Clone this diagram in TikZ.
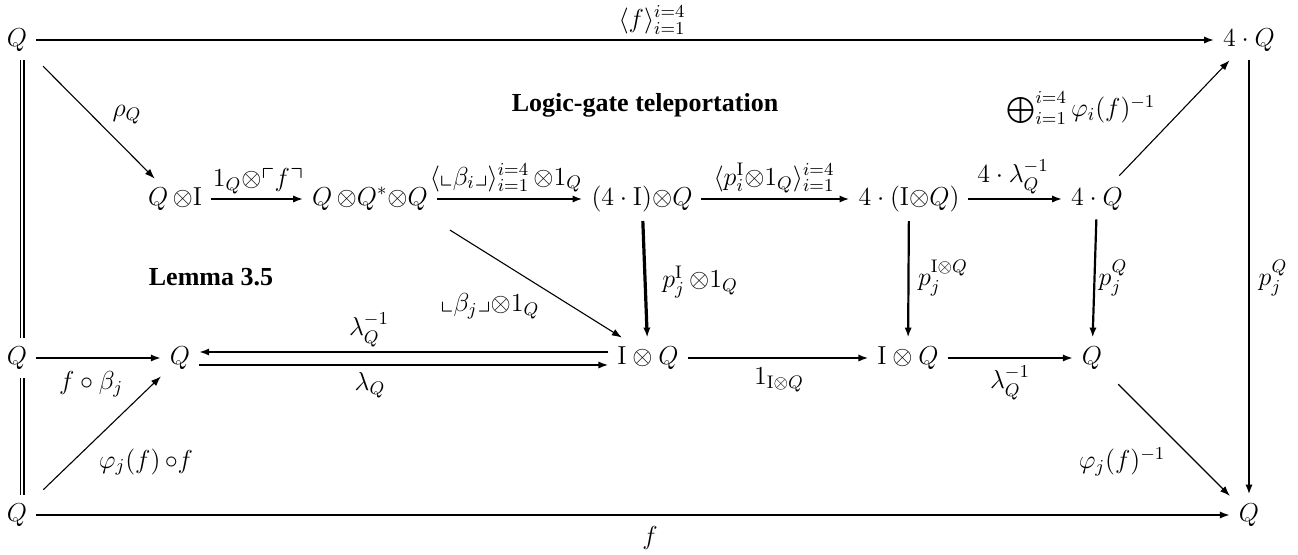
\RequirePackage{fix-cm}
\documentclass[tikz,border=0pt]{standalone}
\usepackage{amsmath,amssymb}
\usepackage[no-math]{fontspec}
\newfontfamily\tnr{Liberation Serif}
\usetikzlibrary{arrows.meta}
\begin{document}
\begin{tikzpicture}[x=0.5pt,y=-0.5pt,
  font=\fontsize{13}{15}\selectfont,
  obj/.style={inner sep=4.5pt, outer sep=0pt},
  lab/.style={inner sep=0pt},
  ar/.style={-{Latex[length=5pt,width=3.6pt]}, line width=1.1pt},
  thinar/.style={-{Latex[length=5pt,width=3.6pt]}, line width=0.55pt},
  eq/.style={double, double distance=1.1pt, line width=0.7pt},
  ttl/.style={font=\tnr\bfseries\fontsize{13}{15}\selectfont}]
\useasboundingbox (0,0) rectangle (1298,554);
% objects
\node[obj] (Q1) at (17,40) {$Q$};
\node[obj] (FQT) at (1249,40) {$4\cdot Q$};
\node[obj] (QI) at (175,199) {$Q\,{\otimes}\mathrm{I}$};
\node[obj] (QQQ) at (370,199) {$Q\,{\otimes}Q^{*}{\otimes}Q$};
\node[obj] (FIQ) at (642,199) {$(4\cdot\mathrm{I}){\otimes}Q$};
\node[obj] (FIQ2) at (909,199) {$4\cdot(\mathrm{I}{\otimes}Q)$};
\node[obj] (FQ) at (1097,199) {$4\cdot Q$};
\node[obj] (Q2) at (17,358) {$Q$};
\node[obj] (Q3) at (180,358) {$Q$};
\node[obj] (IQ1) at (648,358) {$\mathrm{I}\otimes Q$};
\node[obj] (IQ2) at (908,358) {$\mathrm{I}\otimes Q$};
\node[obj] (Q4) at (1092,358) {$Q$};
\node[obj] (Q5) at (17,515) {$Q$};
\node[obj] (Q6) at (1249,515) {$Q$};
% titles
\node[ttl] (logic) at (645,105) {Logic-gate teleportation};
\node[ttl] (lemma) at (211,277) {Lemma 3.5};
% labels
\node[lab] (ltop) at (652,20) {$\langle f\rangle_{i=1}^{i=4}$};
\node[lab] (lrho) at (127,115) {$\rho_Q$};
\node[lab] (l1f) at (258,181) {$1_Q{\otimes}\ulcorner f\urcorner$};
\node[lab] (lbeta) at (506,178) {$\langle\llcorner\beta_i\lrcorner\rangle_{i=1}^{i=4}\,{\otimes}1_Q$};
\node[lab] (lp) at (774,178) {$\langle p_i^{\mathrm{I}}{\otimes}1_Q\rangle_{i=1}^{i=4}$};
\node[lab] (l4l) at (1013,177) {$4\cdot\lambda_Q^{-1}$};
\node[lab] (loplus) at (1081,108) {$\bigoplus_{i=1}^{i=4}\varphi_i(f)^{-1}$};
\node[lab] (lbetaj) at (490,306) {$\llcorner\beta_j\lrcorner{\otimes}1_Q$};
\node[lab] (lpI) at (700,282) {$p_j^{\mathrm{I}}\,{\otimes}1_Q$};
\node[lab] (lpIQ) at (943,278) {$p_j^{\mathrm{I}\otimes Q}$};
\node[lab] (lpQa) at (1113,278) {$p_j^Q$};
\node[lab] (lpQb) at (1273,278) {$p_j^Q$};
\node[lab] (llaminv) at (369,330) {$\lambda_Q^{-1}$};
\node[lab] (llam) at (370,385) {$\lambda_Q$};
\node[lab] (lfb) at (91,384) {$f\circ\beta_j$};
\node[lab] (lphif) at (146,462) {$\varphi_j(f)\,{\circ}f$};
\node[lab] (l1IQ) at (779,380) {$1_{\mathrm{I}\otimes Q}$};
\node[lab] (llaminvb) at (1010,383) {$\lambda_Q^{-1}$};
\node[lab] (lphiinv) at (1122,462) {$\varphi_j(f)^{-1}$};
\node[lab] (lf) at (650,538) {$f$};
% connectors
\draw[ar] (Q1) -- (FQT);
\draw[eq] ([xshift=2.5pt]Q1.south) -- ([xshift=2.5pt]Q2.north);
\draw[eq] ([xshift=2.5pt]Q2.south) -- ([xshift=2.5pt]Q5.north);
\draw[thinar, shorten <=5pt] (Q1) -- (QI);
\draw[ar] (QI) -- (QQQ);
\draw[ar] (QQQ) -- (FIQ);
\draw[ar] (FIQ) -- (FIQ2);
\draw[ar] (FIQ2) -- (FQ);
\draw[thinar, shorten <=2pt] (FQ) -- (FQT);
\draw[thinar, shorten <=10pt] (QQQ.-18) -- (IQ1.142);
\draw[ar, line width=1.6pt] (FIQ) -- (IQ1);
\draw[ar] (FIQ2) -- (IQ2);
\draw[ar] (FQ) -- (Q4);
\draw[ar] (FQT) -- (Q6);
\draw[ar] (Q2) -- (Q3);
\draw[thinar, shorten <=5pt] (Q5) -- (Q3);
\draw[ar] ([yshift=3pt]IQ1.west) -- ([yshift=3pt]Q3.east);
\draw[ar] ([yshift=-3.5pt]Q3.east) -- ([yshift=-3.5pt]IQ1.west);
\draw[ar] (IQ1) -- (IQ2);
\draw[ar] (IQ2) -- (Q4);
\draw[thinar, shorten <=5pt] (Q4) -- (Q6);
\draw[ar] (Q5) -- (Q6);
\end{tikzpicture}
\end{document}
